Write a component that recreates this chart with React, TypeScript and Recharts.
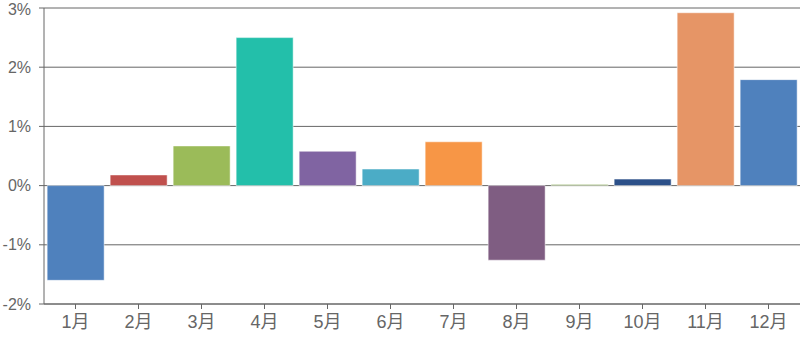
import React from 'react';
import { BarChart, Bar, XAxis, YAxis, CartesianGrid, Cell } from 'recharts';

const months = ['1月', '2月', '3月', '4月', '5月', '6月', '7月', '8月', '9月', '10月', '11月', '12月'];
const changes = [-1.6, 0.18, 0.67, 2.5, 0.58, 0.28, 0.74, -1.26, 0.02, 0.11, 2.92, 1.79];
const barColors = [
  '#4f81bd', '#c0504d', '#9bbb59', '#23bfaa', '#8064a2', '#4bacc6',
  '#f79646', '#7f5d82', '#759d3c', '#2c5089', '#e69566', '#4f81bd',
];
const yTicks = [-2, -1, 0, 1, 2, 3];

const data = months.map((m, i) => ({ month: m, value: changes[i] }));

const font = '"Liberation Sans", "Noto Sans CJK JP", sans-serif';

export default function App() {
  return (
    <div style={{ position: 'absolute', top: 0, left: 0 }}>
      <BarChart
        width={806}
        height={344}
        data={data}
        margin={{ top: 8, right: 6, bottom: 0, left: 0 }}
        barCategoryGap="5%"
      >
        <CartesianGrid vertical={false} stroke="#666" strokeWidth={1} />
        <XAxis
          dataKey="month"
          height={40}
          stroke="#666"
          tickSize={5}
          tickMargin={6}
          tick={{ fill: '#666', fontSize: 18, fontFamily: font }}
          tickLine={{ stroke: '#666' }}
          interval={0}
        />
        <YAxis
          width={44}
          domain={[-2, 3]}
          ticks={yTicks}
          stroke="#666"
          tickSize={5}
          tickMargin={8}
          tick={{ fill: '#666', fontSize: 16, fontFamily: font }}
          tickFormatter={(v: number) => `${v}%`}
        />
        <Bar dataKey="value" isAnimationActive={false} stroke="#fff" strokeOpacity={0.5} strokeWidth={1}>
          {data.map((d, i) => (
            <Cell key={d.month} fill={barColors[i]} />
          ))}
        </Bar>
      </BarChart>
    </div>
  );
}
